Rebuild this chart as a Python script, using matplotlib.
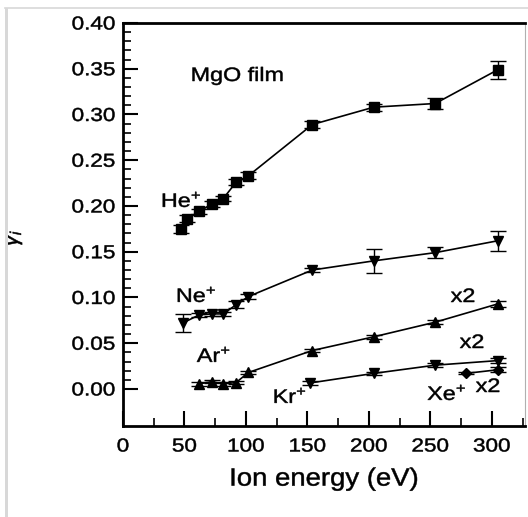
import matplotlib
matplotlib.use("Agg")
import matplotlib.pyplot as plt
from matplotlib.ticker import FixedLocator, MultipleLocator
from matplotlib.patches import Rectangle
from matplotlib.lines import Line2D
from matplotlib import patheffects
from matplotlib.transforms import Affine2D

plt.rcParams['font.family'] = ['Liberation Sans', 'DejaVu Sans']
plt.rcParams['mathtext.fontset'] = 'custom'
plt.rcParams['mathtext.rm'] = 'Liberation Sans'
plt.rcParams['mathtext.it'] = 'Liberation Sans:italic'

# ---- data ----
he_x = [47, 52, 62, 72, 81.5, 92, 102, 154, 204, 254, 305]
he_y = [0.175, 0.186, 0.194, 0.202, 0.208, 0.226, 0.233, 0.289, 0.308, 0.312, 0.349]
he_err = [0.004, 0.004, 0.003, 0.003, 0.003, 0.003, 0.004, 0.004, 0.004, 0.006, 0.010]

ne_x = [48.5, 62, 72, 81.5, 92, 102, 154, 204, 254, 305]
ne_y = [0.072, 0.081, 0.082, 0.082, 0.092, 0.101, 0.130, 0.140, 0.149, 0.162]
ne_err = [0.010, 0.002, 0.002, 0.002, 0.004, 0.003, 0.002, 0.013, 0.006, 0.011]

ar_x = [62, 72, 81.5, 92, 102, 154, 204, 254, 305]
ar_y = [0.0055, 0.008, 0.0055, 0.007, 0.018, 0.042, 0.057, 0.073, 0.093]
ar_err = [0.002, 0.002, 0.002, 0.002, 0.002, 0.002, 0.002, 0.002, 0.003]

kr_x = [152, 204, 254, 305]
kr_y = [0.0065, 0.017, 0.026, 0.031]
kr_err = [0.002, 0.002, 0.002, 0.003]

xe_x = [279, 305]
xe_y = [0.017, 0.021]
xe_err = [0.001, 0.003]

x_ticks = [0, 50, 100, 150, 200, 250, 300]
y_ticks = [0.00, 0.05, 0.10, 0.15, 0.20, 0.25, 0.30, 0.35, 0.40]


class Stretch(patheffects.AbstractPathEffect):
    """Widen glyphs horizontally about their own centre (the scan is stretched)."""
    def __init__(self, sx, stroke=0.35):
        super().__init__()
        self.sx = sx
        self.stroke = stroke

    def draw_path(self, renderer, gc, tpath, affine, rgbFace=None):
        ext = tpath.get_extents()
        cx = (ext.x0 + ext.x1) / 2
        t = Affine2D().translate(-cx, 0).scale(self.sx, 1).translate(cx, 0) + affine
        gc0 = renderer.new_gc()
        gc0.copy_properties(gc)
        gc0.set_linewidth(self.stroke)
        if rgbFace is not None:
            gc0.set_foreground(rgbFace)
        renderer.draw_path(gc0, tpath, t, rgbFace)
        gc0.restore()


fig = plt.figure(figsize=(5.28, 5.17), dpi=100)
ax = fig.add_axes([123/528, 91/517, (525-123)/528, (426-23)/517])

common = dict(color='black', lw=1.2, capsize=6, elinewidth=1.0, capthick=1.0)
ax.errorbar(he_x, he_y, yerr=he_err, marker='s', ms=6.5, **common)
ax.errorbar(ne_x, ne_y, yerr=ne_err, marker='v', ms=7.5, **common)
ax.errorbar(ar_x, ar_y, yerr=ar_err, marker='^', ms=7.5, **common)
ax.errorbar(kr_x, kr_y, yerr=kr_err, marker='v', ms=7.5, **common)
ax.errorbar(xe_x, xe_y, yerr=xe_err, marker='D', ms=5, **common)

ax.set_xlim(0, 327)
ax.set_ylim(-0.0405, 0.40)
ax.xaxis.set_major_locator(FixedLocator(x_ticks))
ax.xaxis.set_minor_locator(MultipleLocator(25))
ax.yaxis.set_major_locator(FixedLocator(y_ticks))
ax.yaxis.set_minor_locator(FixedLocator([i/100 for i in range(0, 41)]))
ax.set_xticklabels([str(v) for v in x_ticks])
ax.set_yticklabels(['%.2f' % v for v in y_ticks])

ax.tick_params(which='major', direction='in', length=11, width=1.5, labelsize=13.5)
ax.tick_params(axis='y', which='major', pad=8)
ax.tick_params(axis='x', which='major', pad=9)
ax.tick_params(which='minor', direction='in', length=6, width=1.2)
ax.tick_params(top=False, right=False, which='both')

for t in ax.get_xticklabels() + ax.get_yticklabels():
    t.set_path_effects([Stretch(1.2)])

for s in ['left', 'bottom', 'top']:
    ax.spines[s].set_linewidth(2.0)
ax.spines['right'].set_linewidth(0.8)
ax.spines['right'].set_color('#b0b0b0')

xl = ax.set_xlabel('Ion energy (eV)', fontsize=18, labelpad=8)
xl.set_path_effects([Stretch(1.1)])
yl = ax.set_ylabel(r'$\gamma_i$', fontsize=16)
yl.set_path_effects([Stretch(1.0)])
ax.yaxis.set_label_coords(-0.245, 0.467)


def lab(x, y, s, **kw):
    t = ax.annotate(s, xy=(x, 517 - y), xycoords='figure pixels', fontsize=14,
                    ha='center', va='baseline', **kw)
    t.set_path_effects([Stretch(1.2)])


lab(237.5, 81, 'MgO film')
lab(181.5, 207, 'He$^{+}$')
lab(196.5, 302, 'Ne$^{+}$')
lab(214, 362, 'Ar$^{+}$')
lab(290, 403, 'Kr$^{+}$')
lab(447, 400, 'Xe$^{+}$')
lab(463, 302, 'x2')
lab(472, 348, 'x2')
lab(488, 392, 'x2')

# light gray scan border
fig.add_artist(Rectangle((5/528, 0), 3/528, 509/517, transform=fig.transFigure,
                         color='#d8d8d8', lw=0))
fig.add_artist(Line2D([5/528, 1], [509/517, 509/517], transform=fig.transFigure,
                      color='#d8d8d8', lw=1.2))

fig.savefig('out.png', dpi=100)
